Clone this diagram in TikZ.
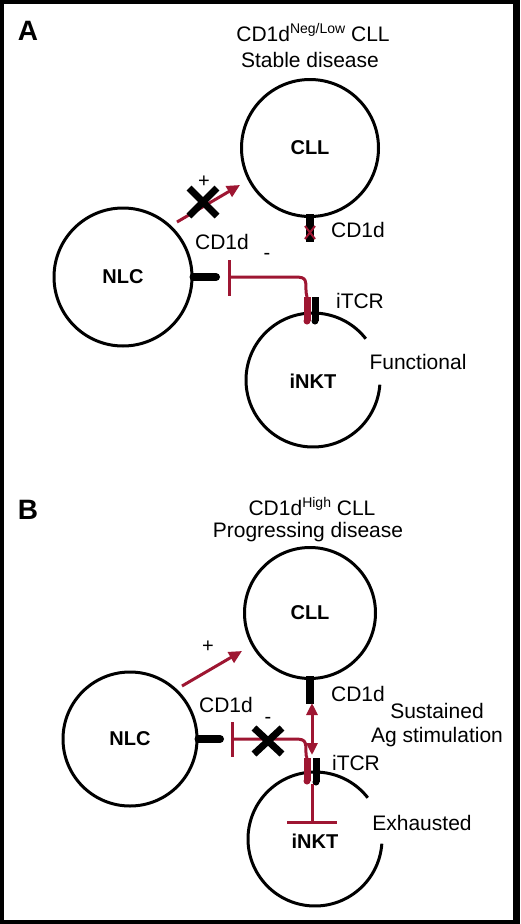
\documentclass[tikz,border=0pt]{standalone}
\usepackage{fontspec}
\setmainfont{Liberation Sans}
\usetikzlibrary{arrows.meta,calc}
\definecolor{rd}{RGB}{158,22,50}
\begin{document}
\begin{tikzpicture}[x=1pt,y=-1pt,
 lbl/.style={font=\fontsize{21}{25}\selectfont, inner sep=0pt},
 sgn/.style={font=\fontsize{20}{22}\selectfont, inner sep=0pt},
 panel/.style={font=\fontsize{28}{30}\selectfont\bfseries, inner sep=0pt},
 cell/.style={circle, draw, line width=3pt, inner sep=0pt, font=\fontsize{20}{24}\selectfont\bfseries},
 celltext/.style={inner sep=0pt, font=\fontsize{20}{24}\selectfont\bfseries},
 stub/.style={line width=8pt, line cap=round},
 act/.style={rd, line width=3pt, -{Triangle[length=13pt,width=12pt]}},
 dact/.style={rd, line width=3pt, {Triangle[length=12pt,width=11pt]}-{Triangle[length=12pt,width=11pt]}},
 inh/.style={rd, line width=3pt},
 blockx/.style={line width=7pt},
]
\useasboundingbox (0,0) rectangle (520,924);
\fill[black] (0,0) rectangle (520,924);
\fill[white] (4,4) rectangle (513,920);

% ---------------- Panel A ----------------
\node[panel] (A) at (28,31) {A};
\node[lbl] (tA1) at (313,33) {CD1d\raisebox{8pt}{\fontsize{14}{14}\selectfont Neg/Low} CLL};
\node[lbl] (tA2) at (310,60) {Stable disease};

\node[cell, minimum size=137pt] (cllA) at (310,148) {CLL};
\node[cell, minimum size=138pt] (nlcA) at (123,277) {NLC};
\draw[line width=3pt] (313,380) ++(-38:67) arc[start angle=-38, end angle=-356, radius=67];
\node[celltext] (inktA) at (313,381) {iNKT};

% CD1d on CLL (blocked)
\draw[stub, line cap=butt] ($(cllA.south)+(0,-4)$) -- ++(0,28) coordinate (cdA1);
\draw[rd, line width=2pt] (305,226) -- (315,239) (315,226) -- (305,239);
\node[lbl] (cdAl1) at (358,230) {CD1d};

% CD1d on NLC
\coordinate (cdA2) at (216,277);
\draw[stub] (nlcA.east) -- (cdA2);
\node[lbl] (cdAl2) at (222,242) {CD1d};

% activation arrow NLC -> CLL, blocked
\coordinate (aA1) at (177,222);
\coordinate (aA2) at (240,185);
\draw[act] (aA1) -- (aA2);
\node[sgn] (plA) at (204,182) {+};
\coordinate (xA) at (203,202);
\draw[blockx] ($(xA)+(-14,-14)$) -- ($(xA)+(14,14)$) ($(xA)+(14,-14)$) -- ($(xA)+(-14,14)$);

% iTCR
\coordinate (tcrA) at (307,297);
\draw[rd, line width=7pt] (307,297) -- (307,321);
\fill[rd] (307,321) circle (3.5pt);
\draw[line width=7pt] (315,297) -- (315,321);
\fill (315,321) circle (3.5pt);
\node[lbl] (itcrA) at (360,301) {iTCR};
\node[lbl] (funcA) at (418,362) {Functional};

% inhibition iNKT -> NLC
\coordinate (barA) at (229,277);
\draw[inh] (tcrA) -- (306,292) .. controls (306,277) .. (290,277) -- (barA);
\draw[inh] (229,260) -- (229,296);
\node[sgn] (miA) at (267,256) {-};

% ---------------- Panel B ----------------
\node[panel] (B) at (28,510) {B};
\node[lbl] (tB1) at (312,507) {CD1d\raisebox{8pt}{\fontsize{14}{14}\selectfont High} CLL};
\node[lbl] (tB2) at (308,532) {Progressing disease};

\node[cell, minimum size=131pt] (cllB) at (310,613) {CLL};
\node[cell, minimum size=134pt] (nlcB) at (130,739) {NLC};
\draw[line width=3pt] (315,839) ++(-38:67) arc[start angle=-38, end angle=-356, radius=67];
\node[celltext] (inktB) at (315,841) {iNKT};

% CD1d on CLL
\draw[stub, line cap=butt] ($(cllB.south)+(0,-4)$) -- ++(0,28) coordinate (cdB1);
\node[lbl] (cdBl1) at (358,694) {CD1d};

% CD1d on NLC
\coordinate (cdB2) at (220,739);
\draw[stub] (nlcB.east) -- (cdB2);
\node[lbl] (cdBl2) at (226,705) {CD1d};

% activation arrow NLC -> CLL
\coordinate (aB1) at (182,686);
\coordinate (aB2) at (242,651);
\draw[act] (aB1) -- (aB2);
\node[sgn] (plB) at (208,647) {+};

% sustained Ag stimulation
\coordinate (dB1) at (312,703);
\coordinate (dB2) at (312,755);
\draw[dact] (dB1) -- (dB2);
\node[lbl] (susB) at (437,711) {Sustained};
\node[lbl] (agB) at (437,737) {Ag stimulation};

% iTCR
\coordinate (tcrB) at (307,758);
\draw[rd, line width=7pt] (307,758) -- (307,781);
\fill[rd] (307,781) circle (3.5pt);
\draw[line width=7pt] (316,758) -- (316,782);
\fill (316,782) circle (3.5pt);
\node[lbl] (itcrB) at (356,763) {iTCR};
\node[lbl] (exhB) at (422,823) {Exhausted};

% inhibition iNKT -> NLC (blocked)
\coordinate (barB) at (232,739);
\draw[inh] (tcrB) -- (306,755) .. controls (306,739) .. (290,739) -- (barB);
\draw[inh] (232,722) -- (232,757);
\node[sgn] (miB) at (268,720) {-};
\coordinate (xB) at (268,741);
\draw[blockx] ($(xB)+(-14,-13)$) -- ($(xB)+(14,13)$) ($(xB)+(14,-13)$) -- ($(xB)+(-14,13)$);

% self inhibition of iNKT
\coordinate (sB) at (312,822);
\draw[inh] (312,784) -- (sB);
\draw[inh] (287,822) -- (337,822);
\end{tikzpicture}
\end{document}
